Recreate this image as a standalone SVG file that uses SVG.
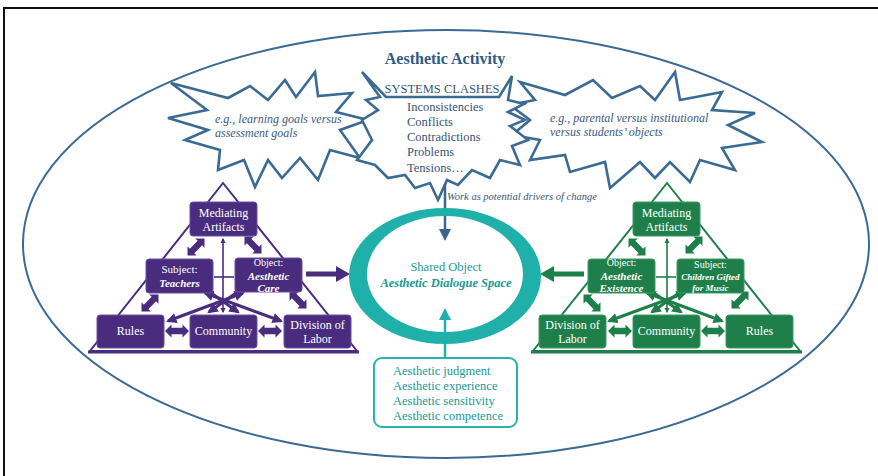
<svg xmlns="http://www.w3.org/2000/svg" width="878" height="476" viewBox="0 0 878 476">
<style>
.serif{font-family:"Liberation Serif","Times New Roman",serif}
.burst{fill:#fff;stroke:#3b6a93;stroke-width:2.6;stroke-linejoin:miter}
.btxt{font-family:"Liberation Serif",serif;font-style:italic;font-size:12px;fill:#3a5a80}
.clash{font-family:"Liberation Serif",serif;font-size:12.5px;fill:#3a5577}
.pbox{fill:#4a2c7e;stroke:#6a4fa0;stroke-width:1}
.gbox{fill:#1f7f4a;stroke:#3d9a66;stroke-width:1}
.wt{font-family:"Liberation Serif",serif;fill:#fff;text-anchor:middle}
.teal{font-family:"Liberation Serif",serif;fill:#1a9a96}
</style>
<defs>
<path id="dbl" d="M-12,0 L-5.5,-6.5 L-5.5,-3.2 L5.5,-3.2 L5.5,-6.5 L12,0 L5.5,6.5 L5.5,3.2 L-5.5,3.2 L-5.5,6.5 Z"/>
<marker id="mp" viewBox="0 0 10 10" refX="8" refY="5" markerWidth="3.5" markerHeight="3.5" orient="auto-start-reverse"><path d="M0,0 L10,5 L0,10 Z" fill="#4a2c7e"/></marker>
<marker id="mg" viewBox="0 0 10 10" refX="8" refY="5" markerWidth="3.5" markerHeight="3.5" orient="auto-start-reverse"><path d="M0,0 L10,5 L0,10 Z" fill="#1f7f4a"/></marker>
</defs>
<rect width="878" height="476" fill="#fff"/>
<path d="M4,476 L4,8 L878,8" fill="none" stroke="#111" stroke-width="2"/>
<ellipse cx="446" cy="244" rx="423" ry="214" fill="none" stroke="#3b6a93" stroke-width="2"/>
<text x="445" y="64" class="serif" font-size="16" font-weight="bold" fill="#2e5a85" text-anchor="middle">Aesthetic Activity</text>

<g id="burst-left">
<polygon class="burst" points="168,118 207,110 171,83 228,98 250,86 268,100 285,80 296,97 315,72 318,96 352,93 336,112 368,120 340,130 360,158 330,150 318,180 300,158 282,178 268,160 255,187 244,160 218,170 220,150 185,140 208,130"/>
<text class="btxt" x="215" y="123">e.g., learning goals versus</text>
<text class="btxt" x="215" y="137">assessment goals</text>
</g>
<g id="burst-right">
<polygon class="burst" points="520,82 565,95 593,80 612,98 640,86 655,100 675,72 680,100 722,92 712,110 755,113 728,125 762,142 722,148 735,170 700,160 690,182 670,162 655,178 640,162 610,188 605,162 570,172 565,155 530,160 540,140 512,135 530,120 510,105 535,100"/>
<text class="btxt" x="550" y="122" font-size="11.5">e.g., parental versus institutional</text>
<text class="btxt" x="550" y="136" font-size="11.5">versus students’ objects</text>
</g>
<g id="burst-center">
<polygon class="burst" points="362,72 386,97 499,97 512,76 508,100 524,104 508,112 525,120 510,126 528,140 512,146 520,165 500,160 490,178 472,170 458,185 447,180 438,200 430,183 415,188 405,175 388,178 375,165 357,160 372,140 362,120 378,110 366,100 380,97"/>
<text class="clash" x="442" y="93" text-anchor="middle" font-size="12.5">SYSTEMS CLASHES</text>
<text class="clash" x="407" y="111">Inconsistencies</text>
<text class="clash" x="407" y="126">Conflicts</text>
<text class="clash" x="407" y="141">Contradictions</text>
<text class="clash" x="407" y="156">Problems</text>
<text class="clash" x="407" y="172">Tensions…</text>
</g>

<g id="connectors">
<line x1="445" y1="184" x2="445" y2="230" stroke="#3a6690" stroke-width="2.5"/>
<polygon points="439,229 451,229 445,241" fill="#3a6690"/>
<text x="447" y="200" class="serif" font-size="10.5" font-style="italic" fill="#3a5577">Work as potential drivers of change</text>
<line x1="306" y1="274" x2="338" y2="274" stroke="#4a2c7e" stroke-width="5"/>
<polygon points="336,266 350,274 336,282" fill="#4a2c7e"/>
<line x1="584" y1="274" x2="552" y2="274" stroke="#1f7f4a" stroke-width="5"/>
<polygon points="554,266 540,274 554,282" fill="#1f7f4a"/>
<line x1="445" y1="357" x2="445" y2="318" stroke="#1fb0aa" stroke-width="2.5"/>
<polygon points="439,320 451,320 445,308" fill="#1fb0aa"/>
</g>

<g id="shared-object">
<path d="M349,276 a96,68 0 1,0 192,0 a96,68 0 1,0 -192,0 Z M367,274 a78,58 0 1,1 156,0 a78,58 0 1,1 -156,0 Z" fill="#1fb0aa" fill-rule="evenodd"/>
<text class="teal" x="446" y="271" font-size="12.5" text-anchor="middle">Shared Object</text>
<text class="teal" x="446" y="287" font-size="12.5" font-weight="bold" font-style="italic" text-anchor="middle">Aesthetic Dialogue Space</text>
</g>

<g id="aesthetic-list">
<rect x="374" y="358" width="143" height="69" rx="8" fill="#fff" stroke="#2ab0ad" stroke-width="2"/>
<text class="teal" x="393" y="375" font-size="12.5">Aesthetic judgment</text>
<text class="teal" x="393" y="390" font-size="12.5">Aesthetic experience</text>
<text class="teal" x="393" y="405" font-size="12.5">Aesthetic sensitivity</text>
<text class="teal" x="393" y="420" font-size="12.5">Aesthetic competence</text>
</g>

<g id="triangle-left">
<polygon points="223,183 90,351 357,351" fill="none" stroke="#4a2c7e" stroke-width="2"/>
<line x1="88" y1="352" x2="359" y2="352" stroke="#4a2c7e" stroke-width="3"/>
<g fill="#4a2c7e">
<use href="#dbl" transform="translate(196,247) rotate(-45)"/>
<use href="#dbl" transform="translate(253,245) rotate(45)"/>
<use href="#dbl" transform="translate(150,303) rotate(-45)"/>
<use href="#dbl" transform="translate(298,300) rotate(45)"/>
<use href="#dbl" transform="translate(177,331)"/>
<use href="#dbl" transform="translate(270,331)"/>
</g>
<g stroke="#4a2c7e" fill="none">
<line x1="223" y1="239" x2="223" y2="312" stroke-width="1.6" marker-start="url(#mp)" marker-end="url(#mp)"/>
<line x1="214" y1="277" x2="234" y2="277" stroke-width="1.6"/>
<line x1="168" y1="321" x2="243" y2="293" stroke-width="3" marker-start="url(#mp)" marker-end="url(#mp)"/>
<line x1="281" y1="321" x2="205" y2="293" stroke-width="3" marker-start="url(#mp)" marker-end="url(#mp)"/>
<line x1="209" y1="312" x2="236" y2="293" stroke-width="3" marker-start="url(#mp)"/>
<line x1="238" y1="312" x2="211" y2="293" stroke-width="3" marker-start="url(#mp)"/>
</g>
</g>
<g id="l-mediating"><rect class="pbox" x="190" y="202" width="67" height="34" rx="3"/><text class="wt" x="223.5" y="217" font-size="12">Mediating</text><text class="wt" x="223.5" y="231" font-size="12">Artifacts</text></g>
<g id="l-subject"><rect class="pbox" x="146" y="259" width="67" height="34" rx="3"/><text class="wt" x="179.5" y="273" font-size="11">Subject:</text><text class="wt" x="179.5" y="287" font-size="11" font-weight="bold" font-style="italic">Teachers</text></g>
<g id="l-object"><rect class="pbox" x="235" y="258" width="67" height="34" rx="3"/><text class="wt" x="268.5" y="266" font-size="10">Object:</text><text class="wt" x="268.5" y="280" font-size="11" font-weight="bold" font-style="italic">Aesthetic</text><text class="wt" x="268.5" y="292" font-size="11" font-weight="bold" font-style="italic">Care</text></g>
<g id="l-rules"><rect class="pbox" x="97" y="315" width="67" height="33" rx="3"/><text class="wt" x="130.5" y="335" font-size="12">Rules</text></g>
<g id="l-community"><rect class="pbox" x="190" y="315" width="67" height="33" rx="3"/><text class="wt" x="223.5" y="335" font-size="12">Community</text></g>
<g id="l-division"><rect class="pbox" x="284" y="315" width="67" height="33" rx="3"/><text class="wt" x="317.5" y="329" font-size="12">Division of</text><text class="wt" x="317.5" y="343" font-size="12">Labor</text></g>

<g id="triangle-right">
<polygon points="667,183 533,351 800,351" fill="none" stroke="#1f7f4a" stroke-width="2"/>
<line x1="531" y1="352" x2="802" y2="352" stroke="#1f7f4a" stroke-width="3"/>
<g fill="#1f7f4a">
<use href="#dbl" transform="translate(637,247) rotate(45)"/>
<use href="#dbl" transform="translate(694,245) rotate(-45)"/>
<use href="#dbl" transform="translate(592,303) rotate(45)"/>
<use href="#dbl" transform="translate(740,300) rotate(-45)"/>
<use href="#dbl" transform="translate(620,331)"/>
<use href="#dbl" transform="translate(713,331)"/>
</g>
<g stroke="#1f7f4a" fill="none">
<line x1="667" y1="239" x2="667" y2="312" stroke-width="1.6" marker-start="url(#mg)" marker-end="url(#mg)"/>
<line x1="656" y1="277" x2="676" y2="277" stroke-width="1.6"/>
<line x1="722" y1="321" x2="647" y2="293" stroke-width="3" marker-start="url(#mg)" marker-end="url(#mg)"/>
<line x1="609" y1="321" x2="685" y2="293" stroke-width="3" marker-start="url(#mg)" marker-end="url(#mg)"/>
<line x1="681" y1="312" x2="654" y2="293" stroke-width="3" marker-start="url(#mg)"/>
<line x1="652" y1="312" x2="679" y2="293" stroke-width="3" marker-start="url(#mg)"/>
</g>
</g>
<g id="r-mediating"><rect class="gbox" x="633" y="202" width="67" height="34" rx="3"/><text class="wt" x="666.5" y="217" font-size="12">Mediating</text><text class="wt" x="666.5" y="231" font-size="12">Artifacts</text></g>
<g id="r-object"><rect class="gbox" x="588" y="259" width="67" height="34" rx="3"/><text class="wt" x="621.5" y="266" font-size="10">Object:</text><text class="wt" x="621.5" y="280" font-size="11" font-weight="bold" font-style="italic">Aesthetic</text><text class="wt" x="621.5" y="292" font-size="11" font-weight="bold" font-style="italic">Existence</text></g>
<g id="r-subject"><rect class="gbox" x="677" y="259" width="67" height="34" rx="3"/><text class="wt" x="710.5" y="268" font-size="10">Subject:</text><text class="wt" x="710.5" y="280" font-size="9" font-weight="bold" font-style="italic">Children Gifted</text><text class="wt" x="710.5" y="291" font-size="9" font-weight="bold" font-style="italic">for Music</text></g>
<g id="r-division"><rect class="gbox" x="539" y="315" width="67" height="33" rx="3"/><text class="wt" x="572.5" y="329" font-size="12">Division of</text><text class="wt" x="572.5" y="343" font-size="12">Labor</text></g>
<g id="r-community"><rect class="gbox" x="633" y="315" width="67" height="33" rx="3"/><text class="wt" x="666.5" y="335" font-size="12">Community</text></g>
<g id="r-rules"><rect class="gbox" x="726" y="315" width="67" height="33" rx="3"/><text class="wt" x="759.5" y="335" font-size="12">Rules</text></g>
</svg>
